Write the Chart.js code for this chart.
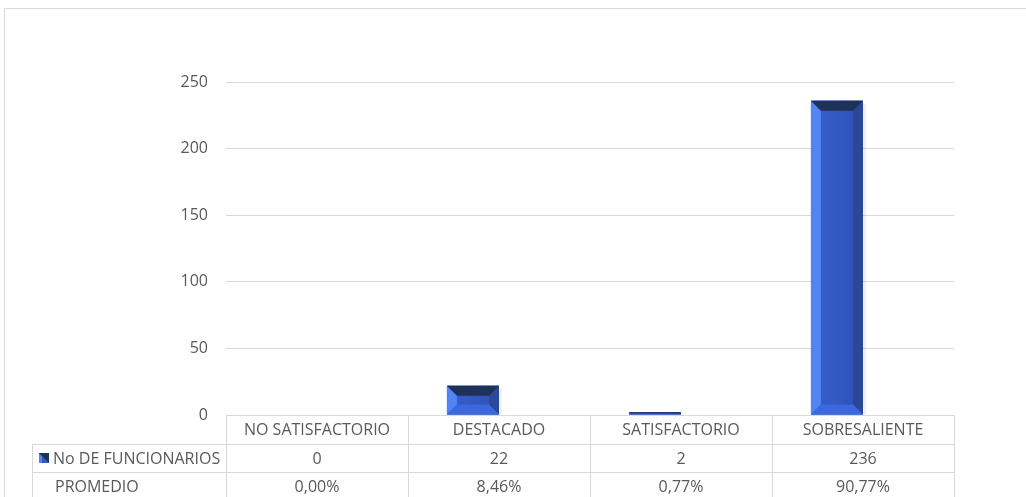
<!DOCTYPE html>
<html lang="es">
<head>
    <meta charset="UTF-8">
    <title>Funcionarios por calificación</title>
    <script src="https://cdn.jsdelivr.net/npm/chart.js"></script>
    <style>
        html, body { margin: 0; padding: 0; background: #fff; }
        #wrap { width: 1026px; height: 497px; position: relative; }
    </style>
</head>
<body>
    <div id="wrap">
        <canvas id="evalChart" width="1026" height="497"></canvas>
    </div>

    <script>
        // Data
        const categories = ['NO SATISFACTORIO', 'DESTACADO', 'SATISFACTORIO', 'SOBRESALIENTE'];
        const funcionarios = [0, 22, 2, 236];
        const promedio = [0.00, 8.46, 0.77, 90.77]; // percent
        const yTicks = [0, 50, 100, 150, 200, 250];

        const seriesNames = ['No DE FUNCIONARIOS', 'PROMEDIO'];
        const textColor = '#595959';
        const lineColor = '#d9d9d9';
        const fontFamily = '"Open Sans", "Liberation Sans", sans-serif';

        function fmtPct(v) {
            return v.toFixed(2).replace('.', ',') + '%';
        }

        // Bevel effect on the bars of the first series
        const bevelPlugin = {
            id: 'bevel',
            afterDatasetsDraw(chart) {
                const ctx = chart.ctx;
                const meta = chart.getDatasetMeta(0);
                meta.data.forEach(bar => {
                    const l = bar.x - bar.width / 2;
                    const r = bar.x + bar.width / 2;
                    const t = bar.y;
                    const b = bar.base;
                    const h = b - t;
                    if (h <= 0.5) return;
                    const bv = Math.min(10, h / 2, bar.width / 4);
                    ctx.save();
                    // face, slight horizontal gradient
                    const g = ctx.createLinearGradient(l, 0, r, 0);
                    g.addColorStop(0, '#3760cf');
                    g.addColorStop(1, '#2d51b6');
                    ctx.fillStyle = g;
                    ctx.fillRect(l, t, r - l, h);
                    // left
                    ctx.fillStyle = '#5284f5';
                    ctx.beginPath();
                    ctx.moveTo(l, t); ctx.lineTo(l + bv, t + bv); ctx.lineTo(l + bv, b - bv); ctx.lineTo(l, b);
                    ctx.closePath(); ctx.fill();
                    // right
                    ctx.fillStyle = '#2b4896';
                    ctx.beginPath();
                    ctx.moveTo(r, t); ctx.lineTo(r - bv, t + bv); ctx.lineTo(r - bv, b - bv); ctx.lineTo(r, b);
                    ctx.closePath(); ctx.fill();
                    // bottom
                    ctx.fillStyle = '#3b69dc';
                    ctx.beginPath();
                    ctx.moveTo(l, b); ctx.lineTo(l + bv, b - bv); ctx.lineTo(r - bv, b - bv); ctx.lineTo(r, b);
                    ctx.closePath(); ctx.fill();
                    // top
                    ctx.fillStyle = '#1e3259';
                    ctx.beginPath();
                    ctx.moveTo(l, t); ctx.lineTo(r, t); ctx.lineTo(r - bv, t + bv); ctx.lineTo(l + bv, t + bv);
                    ctx.closePath(); ctx.fill();
                    // soft shadow on the right
                    ctx.fillStyle = 'rgba(0,0,0,0.06)';
                    ctx.fillRect(r, t + 3, 3, h - 3);
                    ctx.restore();
                });
            }
        };

        // Data table under the plot, like Excel
        const tablePlugin = {
            id: 'dataTable',
            afterDraw(chart) {
                const ctx = chart.ctx;
                const xs = chart.scales.x;
                const ys = chart.scales.y;
                const top = ys.bottom;
                const rowH = [29, 28, 28];
                const rows = [top, top + rowH[0], top + rowH[0] + rowH[1], top + rowH[0] + rowH[1] + rowH[2]];
                const labelLeft = 32;
                const colW = (xs.right - xs.left) / categories.length;

                ctx.save();
                ctx.strokeStyle = lineColor;
                ctx.lineWidth = 1;

                // outer frame of the chart object
                ctx.beginPath();
                ctx.moveTo(4.5, chart.height); ctx.lineTo(4.5, 8.5); ctx.lineTo(chart.width, 8.5);
                ctx.stroke();

                // horizontal rules
                ctx.beginPath();
                ctx.moveTo(labelLeft, Math.round(rows[1]) + 0.5); ctx.lineTo(xs.right, Math.round(rows[1]) + 0.5);
                ctx.moveTo(labelLeft, Math.round(rows[2]) + 0.5); ctx.lineTo(xs.right, Math.round(rows[2]) + 0.5);
                // vertical rules
                for (let i = 0; i <= categories.length; i++) {
                    const x = Math.round(xs.left + i * colW) + 0.5;
                    ctx.moveTo(x, top); ctx.lineTo(x, chart.height);
                }
                ctx.moveTo(labelLeft + 0.5, rows[1]); ctx.lineTo(labelLeft + 0.5, chart.height);
                ctx.stroke();

                ctx.fillStyle = textColor;
                ctx.font = '16px ' + fontFamily;
                ctx.textBaseline = 'middle';
                ctx.textAlign = 'center';
                categories.forEach((c, i) => {
                    const cx = xs.getPixelForValue(i);
                    ctx.fillText(c, cx, (rows[0] + rows[1]) / 2 + 1);
                    ctx.fillText(String(funcionarios[i]), cx, (rows[1] + rows[2]) / 2 + 1);
                    ctx.fillText(fmtPct(promedio[i]), cx, (rows[2] + rows[3]) / 2 + 1);
                });

                // row headers with legend key
                ctx.textAlign = 'left';
                const ky = (rows[1] + rows[2]) / 2 - 5;
                const kx = 39;
                ctx.fillStyle = '#3359c4';
                ctx.fillRect(kx, ky, 10, 10);
                ctx.fillStyle = '#5284f5';
                ctx.beginPath(); ctx.moveTo(kx, ky); ctx.lineTo(kx + 3, ky + 3); ctx.lineTo(kx + 3, ky + 10); ctx.lineTo(kx, ky + 10); ctx.closePath(); ctx.fill();
                ctx.fillStyle = '#1e3259';
                ctx.beginPath(); ctx.moveTo(kx, ky); ctx.lineTo(kx + 10, ky); ctx.lineTo(kx + 10, ky + 10); ctx.lineTo(kx + 3, ky + 3); ctx.closePath(); ctx.fill();

                ctx.fillStyle = textColor;
                ctx.fillText(seriesNames[0], 53, (rows[1] + rows[2]) / 2 + 1);
                ctx.fillText(seriesNames[1], 55, (rows[2] + rows[3]) / 2 + 1);
                ctx.restore();
            }
        };

        const ctx = document.getElementById('evalChart').getContext('2d');
        new Chart(ctx, {
            type: 'bar',
            data: {
                labels: categories,
                datasets: [{
                    label: seriesNames[0],
                    data: funcionarios,
                    backgroundColor: '#3359c4',
                    borderWidth: 0
                }, {
                    label: seriesNames[1],
                    data: promedio.map(p => p / 100),
                    backgroundColor: 'rgba(0,0,0,0)',
                    borderWidth: 0
                }]
            },
            options: {
                responsive: false,
                animation: false,
                layout: { padding: { left: 0, right: 72, top: 82, bottom: 82 } },
                datasets: { bar: { barPercentage: 1, categoryPercentage: 0.572 } },
                plugins: {
                    legend: { display: false },
                    tooltip: { enabled: false }
                },
                scales: {
                    x: { display: false },
                    y: {
                        min: 0,
                        max: 250,
                        afterFit(scale) { scale.width = 226; },
                        afterBuildTicks(scale) { scale.ticks = yTicks.map(v => ({ value: v })); },
                        border: { display: false },
                        grid: { color: lineColor, drawTicks: false },
                        ticks: {
                            padding: 18,
                            color: textColor,
                            font: { family: fontFamily, size: 16 }
                        }
                    }
                }
            },
            plugins: [bevelPlugin, tablePlugin]
        });
    </script>
</body>
</html>
